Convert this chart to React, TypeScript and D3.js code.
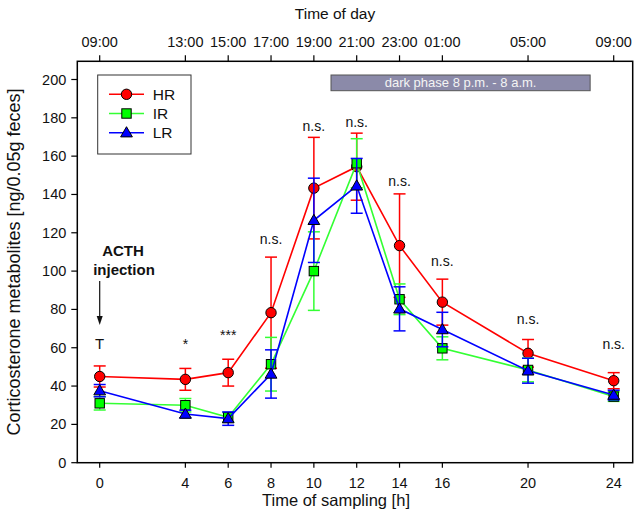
import React from "react";
import * as d3 from "d3";

const hours = [0, 4, 6, 8, 10, 12, 14, 16, 20, 24];
const dayTimes = ["09:00", "13:00", "15:00", "17:00", "19:00", "21:00", "23:00", "01:00", "05:00", "09:00"];
const yTicks = [0, 20, 40, 60, 80, 100, 120, 140, 160, 180, 200];

const hrMean = [45, 43.5, 47, 78.3, 143.3, 154.5, 113.3, 83.8, 57.1, 42.8];
const hrErr = [5.5, 5.7, 7, 29, 26.5, 17.5, 27, 12, 7.2, 4.2];
const irMean = [31, 30, 23.7, 51.4, 100, 156.3, 85.3, 59.7, 48.4, 34.5];
const irErr = [3.5, 3.5, 2.5, 14, 20.5, 12.8, 8, 6, 6.2, 2.5];
const lrMean = [37.6, 25.4, 23, 46.3, 126.5, 144.5, 80.3, 69.5, 48, 35.3];
const lrErr = [3.2, 2, 3.5, 12.6, 22, 14.3, 11.5, 9, 6.5, 2.5];

const sigLabels = ["T", "*", "***", "n.s.", "n.s.", "n.s.", "n.s.", "n.s.", "n.s.", "n.s."];
const sigValues = [59.4, 59.6, 64, 113.9, 173, 175, 144.3, 102.6, 72.6, 59.4];

const darkPhase = [10.8, 22.9];

const series = [
  { name: "HR", mean: hrMean, err: hrErr, color: "#ff0000", fill: "#ff0000", shape: "circle" },
  { name: "IR", mean: irMean, err: irErr, color: "#33ff33", fill: "#00ff00", shape: "square" },
  { name: "LR", mean: lrMean, err: lrErr, color: "#0000ff", fill: "#0000ff", shape: "triangle" },
];

const FONT = "'Liberation Sans', Arial, Helvetica, sans-serif";

function Marker({ shape, x, y, fill }: { shape: string; x: number; y: number; fill: string }) {
  if (shape === "circle") return <circle cx={x} cy={y} r={5.2} fill={fill} stroke="#000" strokeWidth={1} />;
  if (shape === "square") return <rect x={x - 4.7} y={y - 4.7} width={9.4} height={9.4} fill={fill} stroke="#000" strokeWidth={1} />;
  const p = d3.symbol().type(d3.symbolTriangle).size(60)();
  return <path d={p || ""} transform={`translate(${x},${y + 0.8})`} fill={fill} stroke="#000" strokeWidth={1} />;
}

export default function App() {
  const W = 636, H = 513;
  const left = 77.3, right = 632.7, top = 61.3, bottom = 462.7;
  const x = d3.scaleLinear().domain([0, 24]).range([99.7, 613.7]);
  const y = d3.scaleLinear().domain([0, 200]).range([462.7, 79.5]);
  const line = d3.line<number>().x((_, i) => x(hours[i])).y((d) => y(d));

  return (
    <div style={{ position: "absolute", left: 0, top: 0 }}>
      <svg width={W} height={H} style={{ display: "block", fontFamily: FONT }}>
        <rect width={W} height={H} fill="#fff" />
        {/* dark phase */}
        <rect x={x(darkPhase[0])} y={75} width={x(darkPhase[1]) - x(darkPhase[0])} height={15.7} fill="#8b8aa9" stroke="#555" strokeWidth={1} />
        <text x={(x(darkPhase[0]) + x(darkPhase[1])) / 2} y={87} textAnchor="middle" fontSize={13} fill="#f4f4f4">
          dark phase 8 p.m. - 8 a.m.
        </text>

        {/* frame */}
        <rect x={left} y={top} width={right - left} height={bottom - top} fill="none" stroke="#000" strokeWidth={1.5} />

        {/* y axis */}
        {yTicks.map((t) => (
          <g key={t}>
            <line x1={left - 6} x2={left} y1={y(t)} y2={y(t)} stroke="#000" strokeWidth={1.2} />
            <text x={left - 11} y={y(t) + 5} textAnchor="end" fontSize={14.5} fill="#111">{t}</text>
          </g>
        ))}
        {/* bottom axis */}
        {hours.map((h) => (
          <g key={"b" + h}>
            <line x1={x(h)} x2={x(h)} y1={bottom} y2={bottom + 5} stroke="#000" strokeWidth={1.2} />
            <text x={x(h)} y={488} textAnchor="middle" fontSize={14.5} fill="#111">{h}</text>
          </g>
        ))}
        {/* top axis */}
        {hours.map((h, i) => (
          <g key={"t" + i}>
            <line x1={x(h)} x2={x(h)} y1={top} y2={top - 6} stroke="#000" strokeWidth={1.2} />
            <text x={x(h)} y={47} textAnchor="middle" fontSize={14.5} fill="#111">{dayTimes[i]}</text>
          </g>
        ))}
        <text x={335} y={19} textAnchor="middle" fontSize={15.5} fill="#111">Time of day</text>
        <text x={336} y={506} textAnchor="middle" fontSize={16.5} fill="#111">Time of sampling [h]</text>
        <text transform={`translate(20,262) rotate(-90)`} textAnchor="middle" fontSize={18} fill="#111">
          Corticosterone metabolites [ng/0.05g feces]
        </text>

        {/* series */}
        {series.map((s) => (
          <g key={s.name}>
            {s.mean.map((m, i) => (
              <g key={i} stroke={s.color} strokeWidth={1.5}>
                <line x1={x(hours[i])} x2={x(hours[i])} y1={y(m - s.err[i])} y2={y(m + s.err[i])} />
                <line x1={x(hours[i]) - 6} x2={x(hours[i]) + 6} y1={y(m + s.err[i])} y2={y(m + s.err[i])} />
                <line x1={x(hours[i]) - 6} x2={x(hours[i]) + 6} y1={y(m - s.err[i])} y2={y(m - s.err[i])} />
              </g>
            ))}
            <path d={line(s.mean) || ""} fill="none" stroke={s.color} strokeWidth={1.6} />
            {s.mean.map((m, i) => (
              <Marker key={"m" + i} shape={s.shape} x={x(hours[i])} y={y(m)} fill={s.fill} />
            ))}
          </g>
        ))}

        {/* significance labels */}
        {sigLabels.map((l, i) => (
          <text key={"s" + i} x={x(hours[i])} y={y(sigValues[i])} textAnchor="middle" fontSize={l === "T" ? 15 : 14} fill="#111">{l}</text>
        ))}

        {/* ACTH injection */}
        <text x={123} y={256} textAnchor="middle" fontSize={15} fontWeight="bold" fill="#111">ACTH</text>
        <text x={124} y={275} textAnchor="middle" fontSize={15} fontWeight="bold" fill="#111">injection</text>
        <line x1={x(0)} x2={x(0)} y1={281} y2={318} stroke="#111" strokeWidth={1.2} />
        <path d={`M${x(0) - 3},316 L${x(0) + 3},316 L${x(0)},325 Z`} fill="#111" />

        {/* legend */}
        <rect x={97.7} y={75} width={93.3} height={79} fill="#fff" stroke="#333" strokeWidth={1} />
        {series.map((s, i) => {
          const ly = 94.3 + i * 19.2;
          return (
            <g key={"l" + s.name}>
              <line x1={109} x2={144} y1={ly} y2={ly} stroke={s.color} strokeWidth={1.5} />
              <Marker shape={s.shape} x={126.5} y={ly} fill={s.fill} />
              <text x={152.7} y={ly + 5.5} fontSize={15.5} fill="#111">{s.name}</text>
            </g>
          );
        })}
      </svg>
    </div>
  );
}
